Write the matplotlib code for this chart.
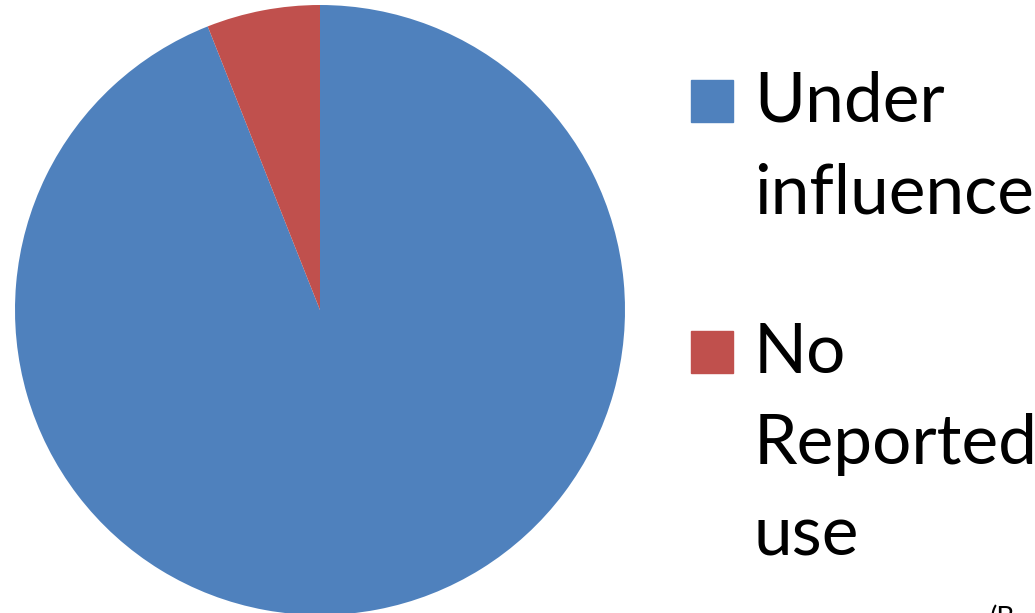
import matplotlib
matplotlib.use('Agg')
import matplotlib.pyplot as plt
from matplotlib.patches import Rectangle

labels = [['Under', 'influence'], ['No', 'Reported', 'use']]
values = [94, 6]
colors = ['#4F81BD', '#C0504D']

W, H = 1035, 613
fig = plt.figure(figsize=(W / 100, H / 100), dpi=100)

# pie axes placed in pixel terms: centre (320, 310), radius 305
cx, cy, r = 320, 310, 305
ax = fig.add_axes([(cx - r) / W, (H - cy - r) / H, 2 * r / W, 2 * r / H])
ax.pie(values, colors=colors, startangle=90, counterclock=False, radius=1,
       wedgeprops=dict(linewidth=0))
ax.set_xlim(-1, 1)
ax.set_ylim(-1, 1)
ax.set_aspect('equal')
ax.axis('off')

# legend by hand
font = 'Lato'
fs = 50
sq = 42
tops = [80, 331]
step = 91
for lines, col, top in zip(labels, colors, tops):
    fig.patches.append(Rectangle((691 / W, (H - top - sq) / H), sq / W, sq / H,
                                 transform=fig.transFigure, color=col))
    base = top + sq
    for i, ln in enumerate(lines):
        fig.text(754 / W, (H - base - i * step) / H, ln, fontsize=fs,
                 family=font, va='baseline', ha='left')

fig.text(990 / W, -19 / H, '(B', fontsize=20, family=font, va='bottom')
fig.savefig('out.png', dpi=100)
